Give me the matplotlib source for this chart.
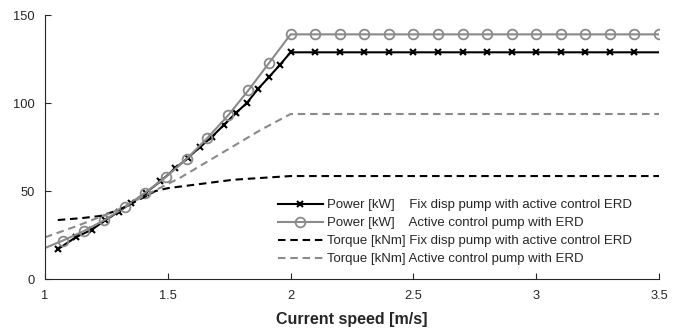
import matplotlib
matplotlib.use("Agg")
import matplotlib.pyplot as plt

plt.rcParams['font.family'] = ['Liberation Sans', 'DejaVu Sans']

# Power [kW], fix displacement pump with active control ERD
p_fix_x = [1.052, 1.125, 1.19, 1.245, 1.30, 1.350, 1.41, 1.47, 1.531, 1.583, 1.633,
           1.680, 1.728, 1.776, 1.823, 1.866, 1.911, 1.956, 2.0,
           2.1, 2.2, 2.3, 2.4, 2.5, 2.6, 2.7, 2.8, 2.9, 3.0, 3.1, 3.2, 3.3, 3.4, 3.5]
p_fix_y = [16.9, 23.7, 28.0, 33.3, 38.3, 43.0, 49.0, 55.5, 62.9, 69.0, 75.2,
           80.8, 87.5, 94.1, 100.2, 107.8, 114.6, 121.6, 128.8,
           128.8, 128.8, 128.8, 128.8, 128.8, 128.8, 128.8, 128.8, 128.8, 128.8,
           128.8, 128.8, 128.8, 128.8, 128.8]

# Power [kW], active control pump with ERD
p_act_x = [1.0, 1.072, 1.159, 1.241, 1.324, 1.408, 1.493, 1.578, 1.661, 1.746,
           1.828, 1.912, 2.0,
           2.1, 2.2, 2.3, 2.4, 2.5, 2.6, 2.7, 2.8, 2.9, 3.0, 3.1, 3.2, 3.3, 3.4, 3.5]
p_act_y = [17.6, 21.8, 27.3, 33.4, 40.7, 49.0, 58.1, 68.4, 80.1, 93.0,
           107.2, 122.7, 139.0,
           139.0, 139.0, 139.0, 139.0, 139.0, 139.0, 139.0, 139.0, 139.0, 139.0,
           139.0, 139.0, 139.0, 139.0, 139.0]

# Torque [kNm], fix displacement pump with active control ERD
t_fix_x = [1.052, 1.15, 1.224, 1.30, 1.39, 1.45, 1.50, 1.633, 1.767, 2.0, 3.5]
t_fix_y = [33.5, 34.6, 35.8, 39.2, 45.5, 50.0, 51.6, 54.0, 56.4, 58.5, 58.5]

# Torque [kNm], active control pump with ERD
t_act_x = [1.0, 1.13, 1.30, 1.429, 1.55, 1.707, 1.878, 2.0, 3.5]
t_act_y = [23.7, 30.1, 39.5, 49.0, 57.5, 70.5, 84.7, 93.75, 93.75]

labels = ["Power [kW]    Fix disp pump with active control ERD",
          "Power [kW]    Active control pump with ERD",
          "Torque [kNm] Fix disp pump with active control ERD",
          "Torque [kNm] Active control pump with ERD"]

xticks = [1, 1.5, 2, 2.5, 3, 3.5]
yticks = [0, 50, 100, 150]
xlabel = "Current speed [m/s]"

GRAY = "#8a8a8a"
AXC = "#262626"

fig = plt.figure(figsize=(6.81, 3.33), dpi=100)
ax = fig.add_axes([45 / 681, 1 - 279 / 333, 614 / 681, 264 / 333])

ax.plot(p_fix_x, p_fix_y, color="black", lw=1.5, marker="x", ms=5, mew=1.5,
        markevery=list(range(len(p_fix_x) - 1)), label=labels[0])
ax.plot(p_act_x, p_act_y, color=GRAY, lw=1.5, marker="o", ms=7, mew=1.3,
        mfc="none", markevery=list(range(1, len(p_act_x))), label=labels[1])
ax.plot(t_fix_x, t_fix_y, color="black", lw=1.5, ls=(0, (3.6, 2.3)), label=labels[2])
ax.plot(t_act_x, t_act_y, color=GRAY, lw=1.5, ls=(0, (3.6, 2.3)), label=labels[3])

ax.set_xlim(1, 3.5)
ax.set_ylim(0, 150)
ax.set_xticks(xticks)
ax.set_xticklabels(["1", "1.5", "2", "2.5", "3", "3.5"])
ax.set_yticks(yticks)
for s in ("top", "right"):
    ax.spines[s].set_visible(False)
for s in ("left", "bottom"):
    ax.spines[s].set_color(AXC)
    ax.spines[s].set_linewidth(0.8)
ax.tick_params(direction="in", length=4, width=0.8, colors=AXC, labelsize=9.3)
ax.tick_params(axis="x", pad=8)
ax.tick_params(axis="y", pad=7.5)
ax.set_xlabel(xlabel, fontsize=11.5, fontweight="bold", color=AXC, labelpad=7)

leg = ax.legend(loc="upper left", bbox_to_anchor=(278 / 681, 1 - 199 / 333),
                bbox_transform=fig.transFigure, frameon=False, fontsize=9.5,
                borderpad=0, borderaxespad=0, handlelength=3.4, handletextpad=0.3,
                labelspacing=0.44)
for t in leg.get_texts():
    t.set_color(AXC)

fig.savefig("out.png", dpi=100)
